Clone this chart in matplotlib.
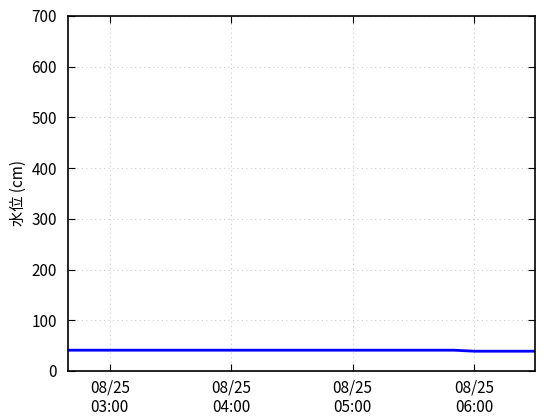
import matplotlib
matplotlib.use('Agg')
import matplotlib.pyplot as plt
import matplotlib.dates as mdates
import pandas as pd

plt.rcParams['font.family'] = ['Noto Sans CJK JP', 'DejaVu Sans']

# 10-minute water level readings
times = pd.date_range('2023-08-25 02:40', '2023-08-25 06:30', freq='10min')
level = [41, 41, 41, 41, 41, 41, 41, 41, 41, 41, 41, 41,
         41, 41, 41, 41, 41, 41, 41, 41, 39, 39, 39, 39]
tick_times = pd.to_datetime(['2023-08-25 03:00', '2023-08-25 04:00',
                             '2023-08-25 05:00', '2023-08-25 06:00'])
y_ticks = [0, 100, 200, 300, 400, 500, 600, 700]

fig = plt.figure(figsize=(5.6, 4.2), dpi=100)
ax = fig.add_axes([0.1214, 0.1167, 0.8336, 0.8453])

ax.plot(times, level, color='#0000ff', lw=2)

ax.set_xlim(times[0] - pd.Timedelta(minutes=0.7), times[-1])
ax.set_ylim(0, 700)
ax.set_xticks(tick_times)
ax.xaxis.set_major_formatter(mdates.DateFormatter('%m/%d\n%H:%M'))
ax.set_yticks(y_ticks)
ax.grid(True, color='#cccccc', linestyle=(0, (1, 3)), lw=0.8)
ax.tick_params(direction='in', top=True, right=True, labelsize=11, length=5)
ax.tick_params(axis='y', pad=8)
ax.tick_params(axis='x', pad=6)
ax.set_ylabel('水位 (cm)', fontsize=11, labelpad=3)
for s in ax.spines.values():
    s.set_linewidth(1.2)

fig.savefig('out.png', dpi=100)
